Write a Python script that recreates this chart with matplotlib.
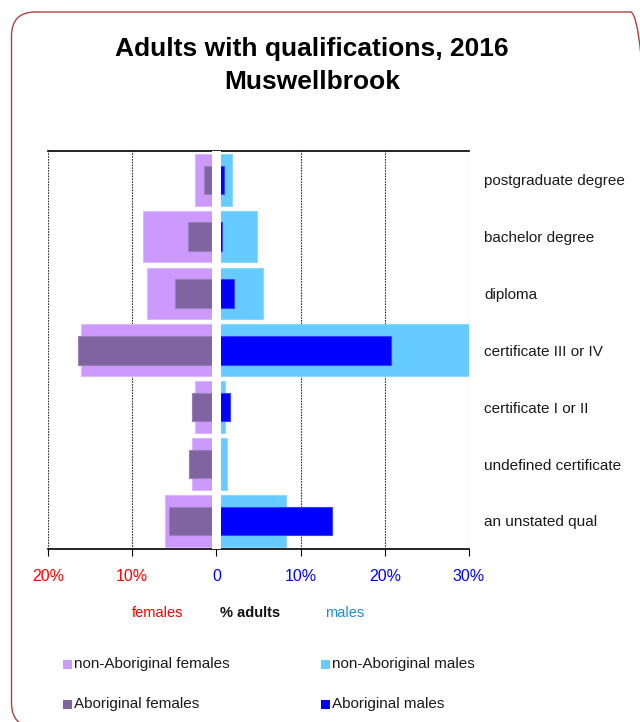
import matplotlib.pyplot as plt
from matplotlib.patches import FancyBboxPatch, Rectangle
from matplotlib.transforms import IdentityTransform

# % of adults in each qualification group, Muswellbrook 2016
categories = [
    "postgraduate degree",
    "bachelor degree",
    "diploma",
    "certificate III or IV",
    "certificate I or II",
    "undefined certificate",
    "an unstated qual",
]
nonabo_female = [2.5, 8.7, 8.2, 16.1, 2.5, 2.9, 6.1]
abo_female = [1.5, 3.4, 4.9, 16.4, 2.9, 3.2, 5.6]
nonabo_male = [1.8, 4.8, 5.5, 30.2, 1.0, 1.2, 8.3]
abo_male = [0.9, 0.7, 2.1, 20.7, 1.6, 0.0, 13.7]

tick_values = [-20, -10, 0, 10, 20, 30]
tick_labels = ["20%", "10%", "0", "10%", "20%", "30%"]

COL_NAF = "#CC99FF"
COL_NAM = "#66CCFF"
COL_AF = "#8064A2"
COL_AM = "#0000FF"

plt.rcParams["font.family"] = ["Liberation Sans", "DejaVu Sans"]

W, H = 640, 722
fig = plt.figure(figsize=(W / 100, H / 100), dpi=100)


def fx(px):
    return px / W


def fy(py):
    return 1 - py / H


# rounded frame around the whole chart (runs off the right and bottom edges)
frame = FancyBboxPatch(
    (11.5, -5), 643, H - 12 + 5,
    boxstyle="round,pad=0,rounding_size=24",
    transform=IdentityTransform(),
    facecolor="none", edgecolor="#B04040", linewidth=1.0,
)
fig.patches.append(frame)

ax = fig.add_axes([fx(48), fy(549.3), fx(469) - fx(48), (549.3 - 151.3) / H])

y = list(range(len(categories)))
neg_naf = [-v for v in nonabo_female]
neg_af = [-v for v in abo_female]

ax.barh(y, neg_naf, height=0.91, color=COL_NAF, edgecolor="#DDB8FF", linewidth=0.8, zorder=2)
ax.barh(y, nonabo_male, height=0.91, color=COL_NAM, edgecolor="#8AD8FF", linewidth=0.8, zorder=2)
ax.barh(y, neg_af, height=0.5, color=COL_AF, edgecolor="#9680B5", linewidth=0.8, zorder=2.1)
ax.barh(y, abo_male, height=0.5, color=COL_AM, edgecolor="#3344FF", linewidth=0.8, zorder=2.1)

# white gap separating females and males
ax.axvline(0, ymin=0, ymax=0.997, color="white", linewidth=6.5, zorder=3)

ax.set_xlim(-20, 30)
ax.set_ylim(len(categories) - 0.5, -0.5)

for xv in [-20, -10, 10, 20, 30]:
    ax.axvline(xv, color="#333333", linewidth=0.8, linestyle=(0, (1.5, 1)), zorder=1)

for side in ["left", "right"]:
    ax.spines[side].set_visible(False)
ax.spines["top"].set_linewidth(1.2)
ax.spines["bottom"].set_linewidth(1.2)

ax.set_xticks(tick_values)
ax.set_xticklabels(tick_labels, fontsize=11.5)
for lab, val in zip(ax.get_xticklabels(), tick_values):
    lab.set_color("#FF0000" if val < 0 else "#0000FF")
ax.tick_params(axis="x", direction="out", length=5, width=0.8, pad=9)

ax.yaxis.tick_right()
ax.set_yticks(y)
ax.set_yticklabels(categories, fontsize=11, color="#1A1A1A")
ax.tick_params(axis="y", length=0, pad=11)

# title
fig.text(fx(312), fy(49), "Adults with qualifications, 2016", ha="center", va="center",
         fontsize=19, fontweight="bold")
fig.text(fx(312), fy(82), "Muswellbrook", ha="center", va="center",
         fontsize=19, fontweight="bold")

# axis caption
fig.text(fx(158), fy(613), "females", ha="center", va="center", fontsize=10.5, color="#FF0000")
fig.text(fx(250), fy(613), "% adults", ha="center", va="center", fontsize=10.5,
         fontweight="bold", color="#111111")
fig.text(fx(345), fy(613), "males", ha="center", va="center", fontsize=10.5, color="#1F8DD6")

# legend
legend_items = [
    (63, 664, COL_NAF, "non-Aboriginal females"),
    (321, 664, COL_NAM, "non-Aboriginal males"),
    (63, 704, COL_AF, "Aboriginal females"),
    (321, 704, COL_AM, "Aboriginal males"),
]
for lx, ly, col, text in legend_items:
    fig.patches.append(Rectangle((fx(lx), fy(ly + 4.5)), fx(9), 9 / H,
                                 transform=fig.transFigure, facecolor=col, edgecolor="none"))
    fig.text(fx(lx + 11), fy(ly), text, ha="left", va="center", fontsize=11, color="#1A1A1A")

fig.savefig("out.png", dpi=100)
